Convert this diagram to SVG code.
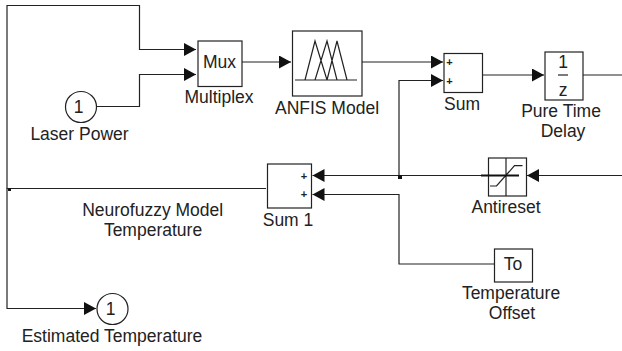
<svg xmlns="http://www.w3.org/2000/svg" width="622" height="351" viewBox="0 0 622 351">
<defs>
<marker id="arrow" markerUnits="userSpaceOnUse" markerWidth="13" markerHeight="14" refX="12" refY="6.5" orient="auto"><path d="M0,0L12,6.500L0,13Z" fill="#111"/></marker>
</defs>
<style>
text{font-family:"Liberation Sans",Arial,sans-serif;font-size:17.5px;fill:#222;text-anchor:middle}
.b{fill:#fff;stroke:#222;stroke-width:1.2}
.c{fill:none;stroke:#222;stroke-width:1.2}
.s{font-size:11px;font-weight:bold}
</style>
<g id="connectors">
<path class="c" marker-end="url(#arrow)" d="M7,189V5.500H139.500V49.500H196"/>
<path class="c" marker-end="url(#arrow)" d="M97,106.500H139.500V74.500H196"/>
<path class="c" marker-end="url(#arrow)" d="M242,62H291"/>
<path class="c" marker-end="url(#arrow)" d="M361,62H443"/>
<path class="c" marker-end="url(#arrow)" d="M399,177V80.500H443"/>
<path class="c" marker-end="url(#arrow)" d="M483,75H544"/>
<path class="c" d="M583,75H622"/>
<path class="c" marker-end="url(#arrow)" d="M622,175.500H527"/>
<path class="c" marker-end="url(#arrow)" d="M481,175.500H312.500"/>
<path class="c" marker-end="url(#arrow)" d="M494,264H399V194.500H312.500"/>
<path class="c" d="M266,188.500H7"/>
<path class="c" marker-end="url(#arrow)" d="M7,188.500V308.500H96"/>
<rect x="398" y="175" width="4" height="4" fill="#111"/>
<rect x="8" y="188" width="3" height="3" fill="#111"/>
</g>
<g id="laser-power"><circle class="b" cx="81" cy="107" r="15.500"/><text x="78.500" y="112.500">1</text><text x="79.500" y="140">Laser Power</text></g>
<g id="multiplex"><rect class="b" x="198" y="41" width="44" height="45.500"/><text x="219.500" y="68">Mux</text><text x="219" y="103">Multiplex</text></g>
<g id="anfis-model"><rect class="b" x="292.500" y="31" width="69.500" height="65"/>
<path class="c" d="M295,80H357M305,80L315,41L327,80M315,80L327,41L337,80M327,80L337,41L347,80"/><text x="327" y="114">ANFIS Model</text></g>
<g id="sum"><rect class="b" x="444" y="53.500" width="38.500" height="39"/><text class="s" x="449.500" y="66">+</text><text class="s" x="449.500" y="85">+</text><text x="462" y="110">Sum</text></g>
<g id="pure-time-delay"><rect class="b" x="545" y="52" width="38" height="48"/><text x="563" y="68">1</text><path class="c" d="M558,75H568"/><text x="563" y="96">z</text><text x="561" y="117">Pure Time</text><text x="563" y="137">Delay</text></g>
<g id="sum-1"><rect class="b" x="267.500" y="164" width="44" height="44"/><text class="s" x="304" y="180">+</text><text class="s" x="304" y="198">+</text><text x="288" y="226">Sum 1</text></g>
<g id="antireset"><rect class="b" x="488.500" y="158" width="38" height="38"/><path class="c" d="M506,158V196M490,186H496.500L514.500,165.700H522.500"/><path d="M481,175.500H519" fill="none" stroke="#111" stroke-width="2"/><text x="506" y="213">Antireset</text></g>
<g id="to"><rect class="b" x="494.500" y="249" width="38" height="33"/><text x="513" y="270">To</text><text x="511" y="299">Temperature</text><text x="512" y="319">Offset</text></g>
<g id="neurofuzzy-label"><text x="152.700" y="216">Neurofuzzy Model</text><text x="153" y="236">Temperature</text></g>
<g id="estimated-temperature"><circle class="b" cx="112.500" cy="309" r="15.500"/><text x="110.700" y="314.500">1</text><text x="112" y="341.500">Estimated Temperature</text></g>
</svg>
